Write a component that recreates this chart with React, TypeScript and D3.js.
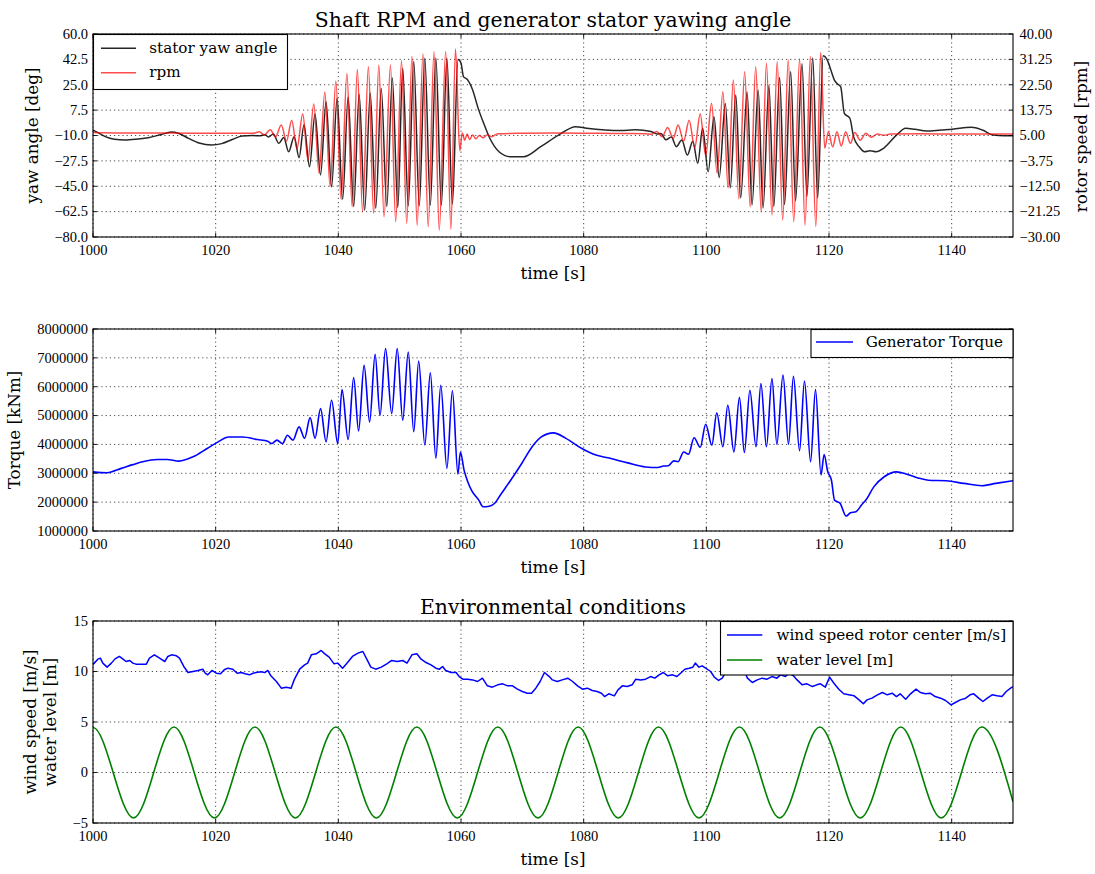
import React from "react";
import * as d3 from "d3";

type Pt = [number, number];

// ---------------------------------------------------------------- data
const timeTicks = [1000, 1020, 1040, 1060, 1080, 1100, 1120, 1140];
const yawTicks = [60, 42.5, 25, 7.5, -10, -27.5, -45, -62.5, -80];
const rpmTicks = [40, 31.25, 22.5, 13.75, 5, -3.75, -12.5, -21.25, -30];
const torqueTicks = [8000000, 7000000, 6000000, 5000000, 4000000, 3000000, 2000000, 1000000];
const envTicks = [15, 10, 5, 0, -5];

// generator stator yaw angle [deg] vs time [s]
const statorYaw: Pt[] = [
  [1000.0, -6.2], [1000.8, -8.0], [1002.0, -10.8], [1003.5, -12.6], [1005.2, -13.1], [1007.0, -12.6],
  [1009.0, -11.5], [1011.0, -9.5], [1012.8, -7.6], [1014.0, -8.6], [1015.5, -11.8], [1017.3, -15.2],
  [1019.3, -16.6], [1021.0, -15.6], [1022.8, -12.6], [1024.3, -10.4], [1026.0, -10.0], [1027.2, -10.2],
  [1028.0, -9.4], [1028.6, -11.0], [1029.4, -9.0], [1030.3, -15.4], [1031.1, -11.3], [1031.9, -21.2],
  [1032.8, -10.8], [1033.6, -25.2], [1034.4, -2.8], [1035.3, -31.5], [1036.2, 4.8], [1037.1, -37.2],
  [1038.0, 13.3], [1038.9, -45.3], [1039.8, 15.7], [1040.7, -54.0], [1041.6, 16.5], [1042.5, -59.0],
  [1043.4, 18.5], [1044.3, -61.5], [1045.2, 19.3], [1046.1, -60.2], [1047.0, 22.5], [1047.9, -59.0],
  [1048.8, 29.7], [1049.7, -59.5], [1050.5, 36.3], [1051.4, -58.5], [1052.3, 41.0], [1053.2, -58.5],
  [1054.1, 43.2], [1055.0, -58.0], [1055.9, 43.5], [1056.8, -58.0], [1057.7, 43.2], [1058.6, -57.2],
  [1059.5, 42.5], [1060.0, 40.0], [1060.4, 30.6], [1061.0, 28.8], [1061.9, 21.4], [1062.8, 8.7],
  [1063.7, -1.6], [1064.7, -11.9], [1066.2, -21.2], [1068.0, -24.6], [1070.2, -24.6], [1073.0, -17.7],
  [1075.9, -9.7], [1078.7, -3.9], [1080.5, -5.0], [1083.5, -6.2], [1086.0, -6.6], [1088.4, -6.0],
  [1091.0, -7.2], [1092.0, -9.0], [1092.6, -8.6], [1093.4, -13.0], [1094.3, -11.0], [1095.1, -17.7],
  [1096.0, -13.1], [1096.9, -23.5], [1097.8, -14.0], [1098.6, -29.2], [1099.4, -5.0], [1100.3, -35.0],
  [1101.25, 3.0], [1102.1, -39.0], [1103.1, 12.0], [1103.9, -46.0], [1104.8, 17.9], [1105.6, -53.0],
  [1106.65, 20.0], [1107.45, -58.0], [1108.45, 21.4], [1109.25, -60.0], [1110.2, 24.5], [1111.0, -59.0],
  [1111.95, 30.0], [1112.75, -57.5], [1113.75, 34.0], [1114.55, -55.0], [1115.6, 39.5], [1116.4, -52.0],
  [1117.35, 43.5], [1118.15, -53.0], [1119.05, 45.0], [1119.6, 43.0], [1120.3, 35.2], [1120.9, 28.0],
  [1121.4, 25.5], [1121.9, 23.7], [1122.5, 5.3], [1123.4, 1.9], [1124.0, -10.8], [1124.9, -17.7],
  [1125.8, -21.2], [1126.7, -20.5], [1127.7, -21.2], [1128.9, -18.8], [1131.0, -9.7], [1132.5, -5.0],
  [1134.0, -5.7], [1135.9, -6.9], [1138.3, -6.2], [1140.1, -5.7], [1143.2, -4.3], [1145.0, -6.2],
  [1146.8, -9.7], [1148.5, -10.1], [1150.0, -10.1],
];

// shaft speed [rpm] vs time [s]
const shaftRpm: Pt[] = [
  [1000.0, 6.0], [1004.0, 5.9], [1010.0, 5.9], [1016.0, 5.8], [1022.0, 5.8], [1026.2, 5.8],
  [1027.1, 6.3], [1027.95, 5.2], [1028.9, 7.0], [1029.75, 4.5], [1030.7, 8.6], [1031.55, 3.1],
  [1032.4, 10.3], [1033.25, 0.5], [1034.2, 12.4], [1035.05, -3.4], [1036.0, 15.9], [1036.85, -8.0],
  [1037.8, 20.0], [1038.65, -12.6], [1039.6, 23.8], [1040.45, -17.0], [1041.4, 26.4], [1042.25, -19.5],
  [1043.1, 27.8], [1043.95, -21.3], [1044.9, 28.7], [1045.75, -21.8], [1046.6, 29.3], [1047.45, -23.0],
  [1048.5, 29.3], [1049.35, -24.7], [1050.3, 30.8], [1051.15, -25.3], [1052.0, 32.2], [1052.85, -25.9],
  [1053.8, 33.1], [1054.65, -26.4], [1055.6, 33.9], [1056.45, -27.6], [1057.5, 34.0], [1058.35, -27.3],
  [1059.1, 34.8], [1059.8, -0.3], [1060.2, 5.9], [1060.6, 3.4], [1061.0, 5.5], [1061.4, 3.6],
  [1061.9, 5.2], [1062.4, 3.9], [1063.0, 5.0], [1063.6, 4.2], [1064.3, 5.3], [1065.0, 4.6],
  [1066.0, 5.6], [1070.0, 5.8], [1075.0, 5.9], [1080.0, 5.8], [1085.0, 5.7], [1090.0, 5.6],
  [1091.0, 5.4], [1091.9, 6.4], [1092.8, 4.6], [1093.7, 7.8], [1094.6, 4.0], [1095.4, 8.6],
  [1096.3, 3.0], [1097.2, 10.3], [1098.1, 0.8], [1099.0, 12.4], [1099.9, -2.0], [1100.85, 16.1],
  [1101.75, -8.0], [1102.7, 20.1], [1103.55, -13.0], [1104.4, 24.1], [1105.3, -16.8], [1106.25, 27.0],
  [1107.15, -19.6], [1108.05, 28.7], [1108.95, -21.3], [1109.8, 29.9], [1110.7, -22.4], [1111.55, 30.4],
  [1112.45, -24.1], [1113.35, 31.0], [1114.25, -24.7], [1115.2, 31.4], [1116.1, -25.9], [1116.95, 32.2],
  [1117.85, -26.4], [1118.65, 33.6], [1119.3, 0.6], [1119.9, 6.3], [1120.6, 1.1], [1121.3, 6.3],
  [1122.0, 1.4], [1122.7, 6.3], [1123.5, 2.3], [1124.2, 6.0], [1125.1, 3.4], [1126.0, 5.8],
  [1126.9, 4.4], [1127.9, 5.5], [1129.0, 5.1], [1130.0, 5.5], [1135.0, 5.6], [1140.0, 5.5],
  [1145.0, 5.5], [1150.0, 5.5],
];

// generator torque [kNm] vs time [s]
const generatorTorque: Pt[] = [
  [1000.0, 3050000], [1002.3, 3020000], [1004.6, 3170000], [1006.5, 3300000], [1008.1, 3400000],
  [1010.5, 3480000], [1012.1, 3480000], [1014.0, 3420000], [1016.3, 3570000], [1018.6, 3860000],
  [1020.4, 4090000], [1022.1, 4260000], [1024.4, 4260000], [1026.8, 4170000], [1028.5, 4110000],
  [1029.1, 4030000], [1030.0, 4150000], [1030.9, 4030000], [1031.7, 4320000], [1032.6, 4150000],
  [1033.6, 4610000], [1034.5, 4210000], [1035.4, 4930000], [1036.2, 4210000], [1037.1, 5240000],
  [1038.0, 4090000], [1038.9, 5530000], [1039.9, 4030000], [1040.6, 5900000], [1041.6, 4170000],
  [1042.5, 6320000], [1043.3, 4470000], [1044.2, 6740000], [1045.1, 4780000], [1046.0, 7120000],
  [1046.8, 5010000], [1047.7, 7320000], [1048.7, 5070000], [1049.6, 7320000], [1050.5, 4840000],
  [1051.4, 7200000], [1052.3, 4440000], [1053.1, 6890000], [1054.1, 3980000], [1055.0, 6480000],
  [1055.9, 3520000], [1056.7, 6050000], [1057.7, 3170000], [1058.6, 5860000], [1059.5, 2970000],
  [1059.9, 3740000], [1060.5, 3110000], [1061.1, 2710000], [1061.7, 2420000], [1062.9, 2070000],
  [1063.6, 1840000], [1064.6, 1860000], [1065.5, 1960000], [1066.4, 2240000], [1068.1, 2760000],
  [1069.9, 3340000], [1071.6, 3920000], [1073.1, 4260000], [1075.1, 4400000], [1077.1, 4210000],
  [1079.7, 3860000], [1082.0, 3630000], [1084.3, 3520000], [1087.2, 3360000], [1090.1, 3220000],
  [1092.1, 3200000], [1093.0, 3250000], [1093.8, 3260000], [1094.7, 3430000], [1095.4, 3400000],
  [1096.3, 3740000], [1097.1, 3660000], [1098.0, 4230000], [1099.0, 3900000], [1099.9, 4700000],
  [1100.9, 3970000], [1101.7, 5090000], [1102.7, 3920000], [1103.5, 5360000], [1104.5, 3740000],
  [1105.4, 5630000], [1106.2, 3720000], [1107.1, 5880000], [1108.1, 3920000], [1108.9, 6110000],
  [1109.8, 3920000], [1110.7, 6280000], [1111.5, 4010000], [1112.5, 6400000], [1113.4, 4010000],
  [1114.2, 6360000], [1115.2, 3780000], [1116.0, 6200000], [1117.0, 3400000], [1117.8, 5900000],
  [1118.7, 2940000], [1119.2, 3650000], [1119.8, 3050000], [1120.4, 2760000], [1120.9, 2070000],
  [1121.8, 1960000], [1122.8, 1520000], [1123.5, 1630000], [1124.4, 1670000], [1125.3, 1900000],
  [1126.1, 2100000], [1127.3, 2530000], [1129.0, 2880000], [1131.0, 3050000], [1132.7, 2970000],
  [1134.5, 2840000], [1136.2, 2760000], [1139.1, 2740000], [1142.0, 2650000], [1144.9, 2570000],
  [1147.2, 2650000], [1150.0, 2740000],
];

// wind speed at rotor center [m/s] vs time [s]
const windSpeed: Pt[] = [
  [1000.0, 10.7], [1000.2, 10.83], [1000.8, 11.22], [1001.2, 11.32], [1001.6, 10.83], [1002.3, 10.43],
  [1003.0, 10.83], [1003.6, 11.25], [1004.3, 11.49], [1004.9, 11.22], [1005.4, 10.99], [1006.0, 11.09],
  [1006.5, 10.83], [1007.0, 10.73], [1007.9, 10.73], [1008.7, 10.73], [1009.2, 11.32], [1010.0, 11.65],
  [1010.6, 11.42], [1011.1, 11.22], [1011.7, 10.99], [1012.2, 11.49], [1012.8, 11.65], [1013.6, 11.55],
  [1014.1, 11.32], [1014.8, 10.5], [1015.5, 9.9], [1016.3, 10.0], [1017.1, 10.1], [1017.9, 10.23],
  [1018.3, 9.83], [1018.7, 9.67], [1019.4, 10.1], [1020.1, 9.83], [1020.8, 9.77], [1021.4, 10.17],
  [1022.0, 10.33], [1022.8, 10.23], [1023.5, 9.83], [1024.2, 9.9], [1024.8, 9.77], [1025.5, 9.67],
  [1026.1, 9.83], [1026.6, 9.9], [1027.4, 9.97], [1028.0, 9.9], [1028.5, 10.1], [1029.0, 9.57],
  [1029.9, 9.01], [1030.7, 8.35], [1031.5, 8.45], [1032.3, 8.35], [1032.8, 9.17], [1033.7, 10.23],
  [1034.5, 10.66], [1035.0, 10.83], [1035.6, 11.65], [1036.4, 11.75], [1037.2, 12.08], [1037.8, 11.75],
  [1038.5, 11.42], [1039.3, 10.76], [1039.9, 10.83], [1040.7, 10.33], [1041.5, 10.89], [1042.3, 11.49],
  [1043.2, 11.82], [1044.0, 11.98], [1044.7, 11.16], [1045.3, 10.43], [1046.1, 10.23], [1047.0, 10.43],
  [1047.9, 10.76], [1048.7, 11.09], [1049.6, 10.99], [1050.5, 11.09], [1051.2, 10.83], [1052.0, 11.65],
  [1052.8, 11.75], [1053.5, 11.22], [1054.3, 10.89], [1055.1, 10.66], [1055.9, 10.33], [1056.5, 10.23],
  [1057.0, 10.5], [1057.5, 10.1], [1058.4, 9.9], [1059.2, 9.9], [1059.7, 9.5], [1060.3, 9.24],
  [1061.1, 9.24], [1061.9, 9.17], [1062.7, 9.01], [1063.5, 9.34], [1064.3, 8.58], [1065.1, 8.45],
  [1066.0, 8.68], [1066.8, 8.78], [1067.6, 8.58], [1068.4, 8.58], [1069.2, 8.25], [1070.0, 8.02],
  [1070.8, 7.85], [1071.5, 7.85], [1072.2, 8.35], [1072.9, 9.01], [1073.6, 9.9], [1074.4, 9.5],
  [1074.9, 9.17], [1075.7, 9.01], [1076.5, 9.17], [1077.4, 9.34], [1078.2, 9.01], [1079.0, 8.58],
  [1079.8, 8.25], [1080.6, 8.35], [1081.4, 8.12], [1082.2, 8.02], [1082.9, 7.85], [1083.4, 7.52],
  [1084.1, 7.79], [1085.0, 7.59], [1085.6, 8.18], [1086.3, 8.58], [1087.1, 8.51], [1087.9, 8.68],
  [1088.5, 9.24], [1089.3, 9.17], [1090.1, 9.24], [1090.9, 9.5], [1091.6, 9.34], [1092.3, 9.67],
  [1093.0, 9.9], [1093.7, 9.57], [1094.5, 9.67], [1095.2, 9.5], [1095.8, 9.83], [1096.5, 10.23],
  [1097.2, 10.33], [1097.8, 10.43], [1098.2, 10.83], [1098.8, 10.43], [1099.3, 10.56], [1099.9, 10.33],
  [1100.7, 10.0], [1101.3, 9.44], [1102.0, 9.11], [1102.6, 9.34], [1103.4, 10.2], [1104.4, 10.5],
  [1105.4, 10.3], [1106.4, 9.8], [1106.7, 9.34], [1107.5, 8.91], [1108.3, 9.17], [1109.1, 9.34],
  [1109.9, 9.24], [1110.7, 9.5], [1111.5, 9.34], [1112.1, 9.67], [1112.9, 9.5], [1113.5, 9.83],
  [1114.2, 9.57], [1114.8, 9.17], [1115.6, 8.68], [1116.4, 8.78], [1117.3, 8.51], [1118.0, 8.68],
  [1118.6, 8.78], [1119.4, 8.45], [1120.1, 9.44], [1120.8, 8.84], [1121.6, 8.25], [1122.4, 7.79],
  [1123.2, 7.69], [1124.1, 7.59], [1124.9, 7.19], [1125.6, 6.8], [1126.2, 7.19], [1127.0, 7.36],
  [1127.9, 7.69], [1128.7, 7.92], [1129.5, 7.69], [1130.3, 7.85], [1131.0, 7.52], [1131.6, 7.79],
  [1132.5, 7.26], [1133.3, 7.79], [1134.2, 8.25], [1134.9, 7.92], [1135.7, 7.79], [1136.5, 7.85],
  [1137.3, 7.52], [1138.2, 7.36], [1139.0, 7.13], [1139.9, 6.7], [1140.6, 6.93], [1141.4, 7.19],
  [1142.3, 7.36], [1143.0, 7.69], [1143.6, 7.79], [1144.4, 7.36], [1145.1, 7.03], [1145.8, 7.36],
  [1146.6, 7.69], [1147.4, 7.59], [1148.2, 7.52], [1148.9, 8.02], [1149.6, 8.35], [1150.0, 8.5],
];

// water level [m]: crests and troughs of the wave record, plus its last sample
const waterLevel: Pt[] = [
  [1000.0, 4.45], [1006.6, -4.5], [1013.2, 4.5], [1019.8, -4.5], [1026.4, 4.5], [1033.0, -4.5],
  [1039.6, 4.5], [1046.2, -4.5], [1052.8, 4.5], [1059.4, -4.5], [1066.0, 4.5], [1072.55, -4.5],
  [1079.1, 4.5], [1085.65, -4.5], [1092.2, 4.5], [1098.8, -4.5], [1105.4, 4.5], [1111.95, -4.5],
  [1118.5, 4.5], [1125.1, -4.5], [1131.7, 4.5], [1138.3, -4.5], [1144.9, 4.5], [1150.0, -2.9],
];

// ---------------------------------------------------------------- layout
const LEFT = 93;
const RIGHT = 1013;
const TEXT_FONT = "'DejaVu Serif', serif";
const NUM_FONT = "'Liberation Serif', 'Times New Roman', serif";

const x = d3.scaleLinear().domain([1000, 1150]).range([LEFT, RIGHT]);

const P1 = { top: 34, bottom: 237 };
const P2 = { top: 329, bottom: 531 };
const P3 = { top: 621, bottom: 823 };

const yYaw = d3.scaleLinear().domain([-80, 60]).range([P1.bottom, P1.top]);
const yRpm = d3.scaleLinear().domain([-30, 40]).range([P1.bottom, P1.top]);
const yTorque = d3.scaleLinear().domain([1000000, 8000000]).range([P2.bottom, P2.top]);
const yEnv = d3.scaleLinear().domain([-5, 15]).range([P3.bottom, P3.top]);

const minus = (s: string) => s.replace("-", "\u2212");

// Cubic segments with flat tangents at every knot (the knots are wave
// crests and troughs); the last knot keeps a slope from its secant.
class CrestCurve {
  _ctx: any;
  _pts: Pt[] = [];
  constructor(ctx: any) {
    this._ctx = ctx;
  }
  areaStart() {}
  areaEnd() {}
  lineStart() {
    this._pts = [];
  }
  point(px: number, py: number) {
    this._pts.push([+px, +py]);
  }
  lineEnd() {
    const p = this._pts;
    const c = this._ctx;
    if (!p.length) return;
    c.moveTo(p[0][0], p[0][1]);
    for (let i = 1; i < p.length; i++) {
      const [x0, y0] = p[i - 1];
      const [x1, y1] = p[i];
      const h = (x1 - x0) / 3;
      const m1 = i === p.length - 1 ? (1.5 * (y1 - y0)) / (x1 - x0) : 0;
      c.bezierCurveTo(x0 + h, y0, x1 - h, y1 - m1 * h, x1, y1);
    }
  }
}
const curveCrest = (ctx: any) => new CrestCurve(ctx);

function linePath(data: Pt[], y: d3.ScaleLinear<number, number>, curve: any) {
  return (
    d3
      .line<Pt>()
      .x((d) => x(d[0]))
      .y((d) => y(d[1]))
      .curve(curve)(data) || ""
  );
}

// ---------------------------------------------------------------- parts
type AxesProps = {
  id: string;
  top: number;
  bottom: number;
  y: d3.ScaleLinear<number, number>;
  yTicks: number[];
  fmt: (v: number) => string;
  yR?: d3.ScaleLinear<number, number>;
  yTicksR?: number[];
  fmtR?: (v: number) => string;
  children?: React.ReactNode;
};

function Axes({ id, top, bottom, y, yTicks, fmt, yR, yTicksR, fmtR, children }: AxesProps) {
  const tick = 4;
  const rightScale = yR || y;
  const rightTicks = yTicksR || yTicks;
  return (
    <g>
      <defs>
        <clipPath id={id}>
          <rect x={LEFT} y={top} width={RIGHT - LEFT} height={bottom - top} />
        </clipPath>
      </defs>
      {/* dotted grid */}
      <g stroke="#000" strokeWidth={0.7} strokeDasharray="1.2 3" fill="none">
        {timeTicks.map((t) => (
          <line key={"gx" + t} x1={x(t)} x2={x(t)} y1={top} y2={bottom} />
        ))}
        {yTicks.map((v) => (
          <line key={"gy" + v} x1={LEFT} x2={RIGHT} y1={y(v)} y2={y(v)} />
        ))}
      </g>
      <g clipPath={`url(#${id})`}>{children}</g>
      <rect x={LEFT} y={top} width={RIGHT - LEFT} height={bottom - top} fill="none" stroke="#000" strokeWidth={1.1} />
      {/* inward ticks */}
      <g stroke="#000" strokeWidth={0.9}>
        {timeTicks.map((t) => (
          <g key={"tx" + t}>
            <line x1={x(t)} x2={x(t)} y1={bottom} y2={bottom - tick} />
            <line x1={x(t)} x2={x(t)} y1={top} y2={top + tick} />
          </g>
        ))}
        {yTicks.map((v) => (
          <line key={"tl" + v} x1={LEFT} x2={LEFT + tick} y1={y(v)} y2={y(v)} />
        ))}
        {rightTicks.map((v) => (
          <line key={"tr" + v} x1={RIGHT} x2={RIGHT - tick} y1={rightScale(v)} y2={rightScale(v)} />
        ))}
      </g>
      {/* tick labels */}
      <g fontFamily={NUM_FONT} fontSize={14.5} fill="#000">
        {timeTicks.map((t) => (
          <text key={"lx" + t} x={x(t)} y={bottom + 17.5} textAnchor="middle">
            {t}
          </text>
        ))}
        {yTicks.map((v) => (
          <text key={"ly" + v} x={LEFT - 5} y={y(v) + 4.8} textAnchor="end">
            {fmt(v)}
          </text>
        ))}
        {yR && yTicksR && fmtR
          ? yTicksR.map((v) => (
              <text key={"lr" + v} x={RIGHT + 6.5} y={yR(v) + 4.8} textAnchor="start">
                {fmtR(v)}
              </text>
            ))
          : null}
      </g>
      <text
        x={(LEFT + RIGHT) / 2}
        y={bottom + 42}
        textAnchor="middle"
        fontFamily={TEXT_FONT}
        fontSize={16.8}
      >
        time [s]
      </text>
    </g>
  );
}

type Entry = { label: string; color: string; opacity?: number };

function Legend({
  bx,
  by,
  bw,
  bh,
  rows,
  entries,
  lx0,
  lx1,
  tx,
}: {
  bx: number;
  by: number;
  bw: number;
  bh: number;
  rows: number[];
  entries: Entry[];
  lx0: number;
  lx1: number;
  tx: number;
}) {
  return (
    <g>
      <rect x={bx} y={by} width={bw} height={bh} fill="#fff" stroke="#000" strokeWidth={1.1} />
      {entries.map((e, i) => (
        <g key={e.label}>
          <line
            x1={lx0}
            x2={lx1}
            y1={rows[i]}
            y2={rows[i]}
            stroke={e.color}
            strokeOpacity={e.opacity ?? 1}
            strokeWidth={1.5}
          />
          <text x={tx} y={rows[i] + 4.6} fontFamily={TEXT_FONT} fontSize={15.2} fill="#000">
            {e.label}
          </text>
        </g>
      ))}
    </g>
  );
}

function YLabel({ x0, yc, text }: { x0: number; yc: number; text: string }) {
  return (
    <text
      transform={`translate(${x0},${yc}) rotate(-90)`}
      textAnchor="middle"
      fontFamily={TEXT_FONT}
      fontSize={16.8}
      fill="#000"
    >
      {text}
    </text>
  );
}

// ---------------------------------------------------------------- chart
export default function App() {
  const yawPath = linePath(statorYaw, yYaw, d3.curveMonotoneX);
  const rpmPath = linePath(shaftRpm, yRpm, d3.curveMonotoneX);
  const torquePath = linePath(generatorTorque, yTorque, d3.curveMonotoneX);
  const windPath = linePath(windSpeed, yEnv, d3.curveLinear);
  const waterPath = linePath(waterLevel, yEnv, curveCrest);

  return (
    <svg
      width={1095}
      height={874}
      viewBox="0 0 1095 874"
      style={{ position: "absolute", left: 0, top: 0, background: "#fff" }}
    >
      <rect x={0} y={0} width={1095} height={874} fill="#fff" />

      {/* ---- shaft rpm and stator yaw */}
      <text x={553} y={27} textAnchor="middle" fontFamily={TEXT_FONT} fontSize={20.4}>
        Shaft RPM and generator stator yawing angle
      </text>
      <Axes
        id="clip-yaw"
        top={P1.top}
        bottom={P1.bottom}
        y={yYaw}
        yTicks={yawTicks}
        fmt={(v) => minus(v.toFixed(1))}
        yR={yRpm}
        yTicksR={rpmTicks}
        fmtR={(v) => minus(v.toFixed(2))}
      >
        <path d={yawPath} fill="none" stroke="#000" strokeOpacity={0.85} strokeWidth={1.5} strokeLinejoin="round" />
        <path d={rpmPath} fill="none" stroke="#ff0000" strokeOpacity={0.7} strokeWidth={1.5} strokeLinejoin="round" />
      </Axes>
      <YLabel x0={37.5} yc={135.5} text="yaw angle [deg]" />
      <YLabel x0={1087} yc={136.5} text="rotor speed [rpm]" />
      <Legend
        bx={93.5}
        by={34.5}
        bw={194}
        bh={55}
        rows={[48.3, 72.7]}
        lx0={101}
        lx1={136}
        tx={149.3}
        entries={[
          { label: "stator yaw angle", color: "#000", opacity: 0.85 },
          { label: "rpm", color: "#ff0000", opacity: 0.7 },
        ]}
      />

      {/* ---- generator torque */}
      <Axes
        id="clip-torque"
        top={P2.top}
        bottom={P2.bottom}
        y={yTorque}
        yTicks={torqueTicks}
        fmt={(v) => String(v)}
      >
        <path d={torquePath} fill="none" stroke="#0000ff" strokeWidth={1.6} strokeLinejoin="round" />
      </Axes>
      <YLabel x0={19.5} yc={430} text="Torque [kNm]" />
      <Legend
        bx={811}
        by={329.5}
        bw={202}
        bh={28}
        rows={[342]}
        lx0={816}
        lx1={853}
        tx={865.7}
        entries={[{ label: "Generator Torque", color: "#0000ff" }]}
      />

      {/* ---- environmental conditions */}
      <text x={553} y={614} textAnchor="middle" fontFamily={TEXT_FONT} fontSize={20.4}>
        Environmental conditions
      </text>
      <Axes
        id="clip-env"
        top={P3.top}
        bottom={P3.bottom}
        y={yEnv}
        yTicks={envTicks}
        fmt={(v) => minus(String(v))}
      >
        <path d={windPath} fill="none" stroke="#0000ff" strokeWidth={1.5} strokeLinejoin="round" />
        <path d={waterPath} fill="none" stroke="#008000" strokeWidth={1.6} strokeLinejoin="round" />
      </Axes>
      <YLabel x0={36} yc={722} text="wind speed [m/s]" />
      <YLabel x0={55.5} yc={722} text="water level [m]" />
      <Legend
        bx={720.5}
        by={621.5}
        bw={292.5}
        bh={53.5}
        rows={[635, 660]}
        lx0={727}
        lx1={762.3}
        tx={776.5}
        entries={[
          { label: "wind speed rotor center [m/s]", color: "#0000ff" },
          { label: "water level [m]", color: "#008000" },
        ]}
      />
    </svg>
  );
}
